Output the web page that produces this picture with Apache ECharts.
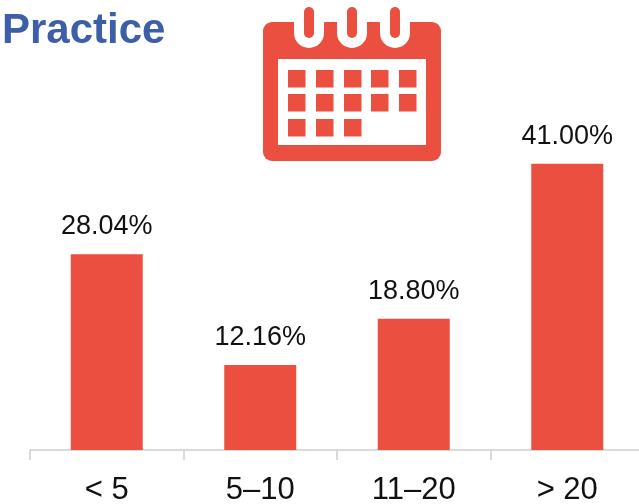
<!DOCTYPE html>
<html><head><meta charset="utf-8">
<style>html,body{margin:0;padding:0;background:#fff;overflow:hidden}#c{width:639px;height:504px}</style>
<script src="https://cdn.jsdelivr.net/npm/echarts@6/dist/echarts.min.js"></script>
</head><body><div id="c"></div>
<script>
const categories = ['< 5', '5–10', '11–20', '> 20'];
const shares = [28.04, 12.16, 18.80, 41.00];
const titleText = 'Practice';
const RED = '#EB4F3F';
const iconCols = [288, 316, 344, 371, 399];
const iconRows = [70, 94, 119];
const ringCenters = [309, 352, 395];

const icon = [];
icon.push({type:'rect',shape:{x:263,y:22,width:178,height:139,r:9},style:{fill:RED}});
icon.push({type:'rect',shape:{x:278,y:59,width:148,height:86},style:{fill:'#fff'}});
ringCenters.forEach(c=>{
  icon.push({type:'rect',shape:{x:c-15,y:22,width:30,height:26,r:[0,0,15,15]},style:{fill:'#fff'}});
  icon.push({type:'rect',shape:{x:c-5,y:7,width:10,height:31,r:5},style:{fill:RED}});
});
iconRows.forEach((y,r)=>iconCols.forEach((x,i)=>{
  if(r===2 && i>2) return;
  icon.push({type:'rect',shape:{x,y,width:17.5,height:17.5},style:{fill:RED}});
}));

const chart = echarts.init(document.getElementById('c'),null,{renderer:'canvas'});
chart.setOption({
  animation:false,
  backgroundColor:'#fff',
  title:{text:titleText,left:2,top:10,padding:0,textStyle:{fontFamily:'Liberation Sans',fontWeight:'bold',fontSize:42,color:'#3C5FA8'}},
  grid:{left:30,width:614,top:31,bottom:54,outerBoundsMode:'none'},
  xAxis:{type:'category',data:categories,
    axisLine:{lineStyle:{color:'#DADADA',width:2}},
    axisTick:{show:true,length:10,alignWithLabel:false,lineStyle:{color:'#DADADA',width:2}},
    axisLabel:{fontFamily:'Liberation Sans',fontSize:31,color:'#111',margin:25,interval:0}},
  yAxis:{type:'value',min:0,max:60,show:false,splitLine:{show:false}},
  series:[{type:'bar',data:shares,barWidth:72,itemStyle:{color:RED},
    label:{show:true,position:'top',distance:14,fontFamily:'Liberation Sans',fontSize:27,color:'#111',formatter:p=>p.value.toFixed(2)+'%'}}],
  graphic:icon
});
</script></body></html>
